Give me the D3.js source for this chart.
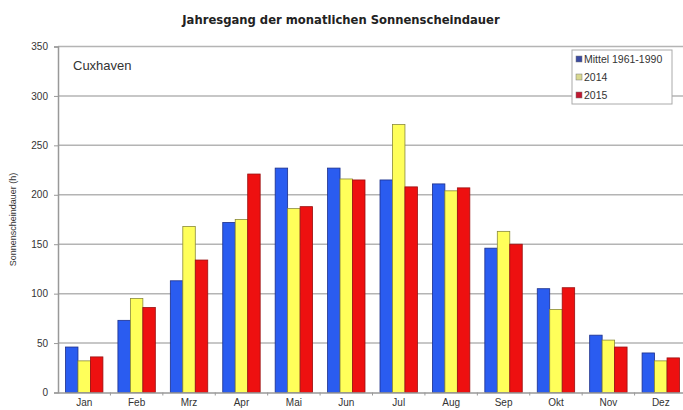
<!DOCTYPE html>
<html>
<head>
<meta charset="utf-8">
<script src="https://cdn.jsdelivr.net/npm/d3@7"></script>
<style>
  body { margin: 0; background: #fff; }
  svg { display: block; font-family: "Liberation Sans", Arial, sans-serif; }
  .grid line { stroke: #b4b4b4; stroke-width: 1.5; }
  .axis text { fill: #333; font-size: 10px; }
  .axis path, .axis line { stroke: #999; }
</style>
</head>
<body>
<svg id="chart" width="683" height="410"></svg>
<script>
var months = ["Jan", "Feb", "Mrz", "Apr", "Mai", "Jun", "Jul", "Aug", "Sep", "Okt", "Nov", "Dez"];
var seriesNames = ["Mittel 1961-1990", "2014", "2015"];
var mittel = [46, 73, 113, 172, 227, 227, 215, 211, 146, 105, 58, 40];
var y2014 = [32, 95, 168, 175, 186, 216, 271, 204, 163, 84, 53, 32];
var y2015 = [36, 86, 134, 221, 188, 215, 208, 207, 150, 106, 46, 35];
var yTicks = [0, 50, 100, 150, 200, 250, 300, 350];

var colors = ["#2a5cf0", "#ffff5a", "#ee1010"];
var strokes = ["#1c2f8a", "#8a8a3a", "#9a1010"];
var swatch = ["#3a4aa0", "#d8d890", "#c01830"];

var margin = {top: 46.5, right: -4, bottom: 17.5, left: 58};
var width = 683 - margin.left - margin.right;
var height = 410 - margin.top - margin.bottom;

var svg = d3.select("#chart");

svg.append("text")
  .attr("x", 341)
  .attr("y", 24)
  .attr("text-anchor", "middle")
  .style("font-family", "'DejaVu Sans', Verdana, sans-serif")
  .style("font-weight", "bold")
  .style("font-size", "11.6px")
  .style("fill", "#222")
  .text("Jahresgang der monatlichen Sonnenscheindauer");

var chart = svg.append("g")
  .attr("transform", "translate(" + margin.left + "," + margin.top + ")");

var x = d3.scaleBand().domain(months).range([0, width]);
var x1 = d3.scaleBand().domain(seriesNames).range([7.5, x.bandwidth() - 7.5]);
var y = d3.scaleLinear().domain([0, 350]).range([height, 0]);

chart.append("g")
  .attr("class", "grid")
  .selectAll("line")
  .data(yTicks.slice(1))
  .enter().append("line")
  .attr("x1", 0)
  .attr("x2", width)
  .attr("y1", function(d) { return y(d); })
  .attr("y2", function(d) { return y(d); });

var yAxis = d3.axisLeft(y).tickValues(yTicks).tickSize(4).tickPadding(6);
chart.append("g")
  .attr("class", "axis")
  .call(yAxis)
  .call(function(g) { g.select(".domain").attr("stroke", "#999").attr("stroke-width", 1.5); });

var data = months.map(function(m, i) {
  return {month: m, values: [mittel[i], y2014[i], y2015[i]]};
});

var groups = chart.selectAll(".month")
  .data(data)
  .enter().append("g")
  .attr("class", "month")
  .attr("transform", function(d) { return "translate(" + x(d.month) + ",0)"; });

groups.selectAll("rect")
  .data(function(d) {
    return d.values.map(function(v, i) { return {name: seriesNames[i], value: v, i: i}; });
  })
  .enter().append("rect")
  .attr("x", function(d) { return x1(d.name); })
  .attr("y", function(d) { return y(d.value); })
  .attr("width", x1.bandwidth())
  .attr("height", function(d) { return height - y(d.value); })
  .attr("fill", function(d) { return colors[d.i]; })
  .attr("stroke", function(d) { return strokes[d.i]; })
  .attr("stroke-width", 0.8);

var xAxis = d3.axisBottom(x).tickSize(0).tickPadding(6);
var xg = chart.append("g")
  .attr("class", "axis")
  .attr("transform", "translate(0," + height + ")")
  .call(xAxis);
xg.select(".domain").attr("stroke", "#999").attr("stroke-width", 1.5);
xg.selectAll(".tick text").style("font-size", "10px");

// small ticks between the month groups
xg.selectAll(".sep")
  .data(months.slice(1))
  .enter().append("line")
  .attr("x1", function(d) { return x(d); })
  .attr("x2", function(d) { return x(d); })
  .attr("y1", 0)
  .attr("y2", 3)
  .attr("stroke", "#999");

svg.append("text")
  .attr("transform", "translate(16," + (margin.top + height / 2) + ") rotate(-90)")
  .attr("text-anchor", "middle")
  .style("font-size", "9px")
  .style("fill", "#333")
  .text("Sonnenscheindauer (h)");

chart.append("text")
  .attr("x", 15)
  .attr("y", 23)
  .style("font-size", "13px")
  .style("fill", "#333")
  .text("Cuxhaven");

var legend = svg.append("g").attr("transform", "translate(572,50)");
legend.append("rect")
  .attr("width", 100)
  .attr("height", 54)
  .attr("fill", "#fff")
  .attr("stroke", "#aaa");
seriesNames.forEach(function(name, i) {
  var row = legend.append("g").attr("transform", "translate(4," + (9 + i * 18) + ")");
  row.append("rect")
    .attr("x", 0).attr("y", -3)
    .attr("width", 6).attr("height", 6)
    .attr("fill", swatch[i])
    .attr("stroke", "#777")
    .attr("stroke-width", 0.5);
  row.append("text")
    .attr("x", 8)
    .attr("y", 3.5)
    .style("font-size", "10.5px")
    .style("fill", "#333")
    .text(name);
});
</script>
</body>
</html>
